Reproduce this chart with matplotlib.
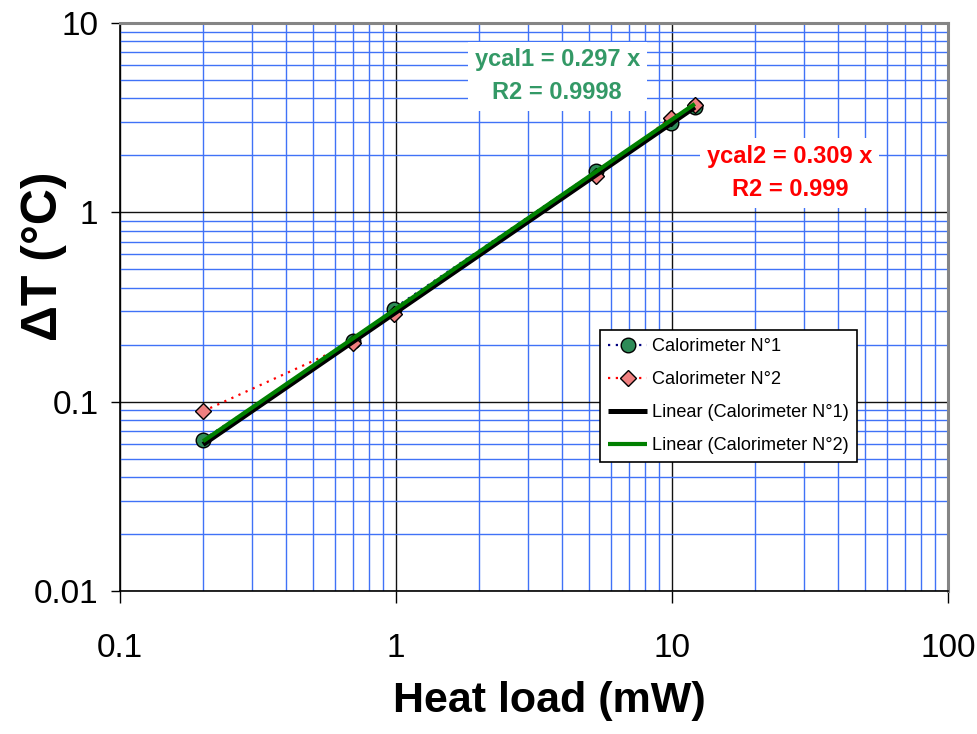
import matplotlib
matplotlib.use("Agg")
import matplotlib.pyplot as plt
from matplotlib import font_manager
from matplotlib.ticker import FixedLocator, FixedFormatter, LogLocator, NullFormatter
import numpy as np

# Measured heat load (mW) and temperature rise (°C) for both calorimeters
heat_load = [0.2, 0.7, 0.98, 5.3, 9.9, 12.1]
dt_cal1 = [0.063, 0.21, 0.31, 1.65, 2.95, 3.6]
dt_cal2 = [0.089, 0.205, 0.29, 1.56, 3.15, 3.7]

# Linear (through origin) calibration fits
slope_cal1 = 0.297
slope_cal2 = 0.309
r2_cal1 = 0.9998
r2_cal2 = 0.999

series_names = ["Calorimeter N°1", "Calorimeter N°2"]
fit_names = ["Linear (Calorimeter N°1)", "Linear (Calorimeter N°2)"]

x_ticks = [0.1, 1, 10, 100]
x_tick_labels = ["0.1", "1", "10", "100"]
y_ticks = [0.01, 0.1, 1, 10]
y_tick_labels = ["0.01", "0.1", "1", "10"]

# Pick a condensed sans face when available
available = {f.name for f in font_manager.fontManager.ttflist}
if "Liberation Sans Narrow" in available:
    base_font, k = "Liberation Sans Narrow", 1.15
else:
    base_font, k = "Liberation Sans", 1.0
plt.rcParams["font.family"] = [base_font, "DejaVu Sans"]

W, H = 978, 734
fig = plt.figure(figsize=(W / 100, H / 100), dpi=100)
ax = fig.add_axes([120 / W, 1 - 591 / H, 828 / W, 568 / H])
ax.set_xscale("log")
ax.set_yscale("log")
ax.set_xlim(x_ticks[0], x_ticks[-1])
ax.set_ylim(y_ticks[0], y_ticks[-1])

# Ticks and grid
ax.xaxis.set_major_locator(FixedLocator(x_ticks))
ax.xaxis.set_major_formatter(FixedFormatter(x_tick_labels))
ax.yaxis.set_major_locator(FixedLocator(y_ticks))
ax.yaxis.set_major_formatter(FixedFormatter(y_tick_labels))
for axis in (ax.xaxis, ax.yaxis):
    axis.set_minor_locator(LogLocator(base=10, subs=np.arange(2, 10)))
    axis.set_minor_formatter(NullFormatter())

ax.grid(which="minor", color="#4072f7", lw=1.0)
ax.grid(which="major", color="#111111", lw=1.0)
ax.set_axisbelow(True)

ax.tick_params(which="minor", length=0)
ax.tick_params(axis="x", which="major", direction="out", length=8.5, width=1.0,
               pad=22, labelsize=24 * k, colors="black")
ax.tick_params(axis="y", which="major", direction="out", length=6.5, width=1.0,
               pad=9, labelsize=24 * k, colors="black")

for side in ("left", "bottom"):
    ax.spines[side].set_color("black")
    ax.spines[side].set_linewidth(1.2)
for side in ("top", "right"):
    ax.spines[side].set_color("#858585")
    ax.spines[side].set_linewidth(2.2)

# Measured series
ax.plot(heat_load, dt_cal1, linestyle=(0, (1, 2.5)), color="#000080", lw=1.6,
        marker="o", ms=10.5, mfc="#2e8b57", mec="black", mew=1.0,
        label=series_names[0], zorder=3)
ax.plot(heat_load, dt_cal2, linestyle=(0, (1, 2.5)), color="#ff0000", lw=1.6,
        marker="D", ms=8, mfc="#f08080", mec="black", mew=1.0,
        label=series_names[1], zorder=3)

# Trend lines over the measured range
xf = np.array([min(heat_load), max(heat_load)])
ax.plot(xf, slope_cal1 * xf, color="black", lw=3.6, label=fit_names[0],
        solid_capstyle="butt", zorder=4)
ax.plot(xf, slope_cal2 * xf, color="#008000", lw=3.0, label=fit_names[1],
        solid_capstyle="butt", zorder=5)

# Fit equations
box = dict(facecolor="white", edgecolor="none", pad=5)
ax.text(0.528, 0.906, f"ycal1 = {slope_cal1} x\nR2 = {r2_cal1}",
        transform=ax.transAxes, ha="center", va="center", color="#339966",
        fontsize=17 * k, fontweight="bold", linespacing=1.55, bbox=box, zorder=6)
ax.text(0.809, 0.736, f"ycal2 = {slope_cal2} x\nR2 = {r2_cal2}",
        transform=ax.transAxes, ha="center", va="center", color="#ff0000",
        fontsize=17 * k, fontweight="bold", linespacing=1.55, bbox=box, zorder=6)

leg = ax.legend(loc="upper left", bbox_to_anchor=(0.5797, 0.4595),
                borderaxespad=0, fontsize=13.1 * k, frameon=True, fancybox=False,
                edgecolor="black", framealpha=1, handlelength=2.15,
                handletextpad=0.25, labelspacing=0.88, borderpad=0.45)
leg.get_frame().set_linewidth(1.2)
leg.set_zorder(7)

ax.set_xlabel("Heat load (mW)", fontsize=31 * k, fontweight="bold")
ax.xaxis.set_label_coords(0.519, -0.158)
ax.set_ylabel("ΔT (°C)", fontsize=36 * k, fontweight="bold")
ax.yaxis.set_label_coords(-0.064, 0.59)

fig.savefig("out.png", dpi=100)
